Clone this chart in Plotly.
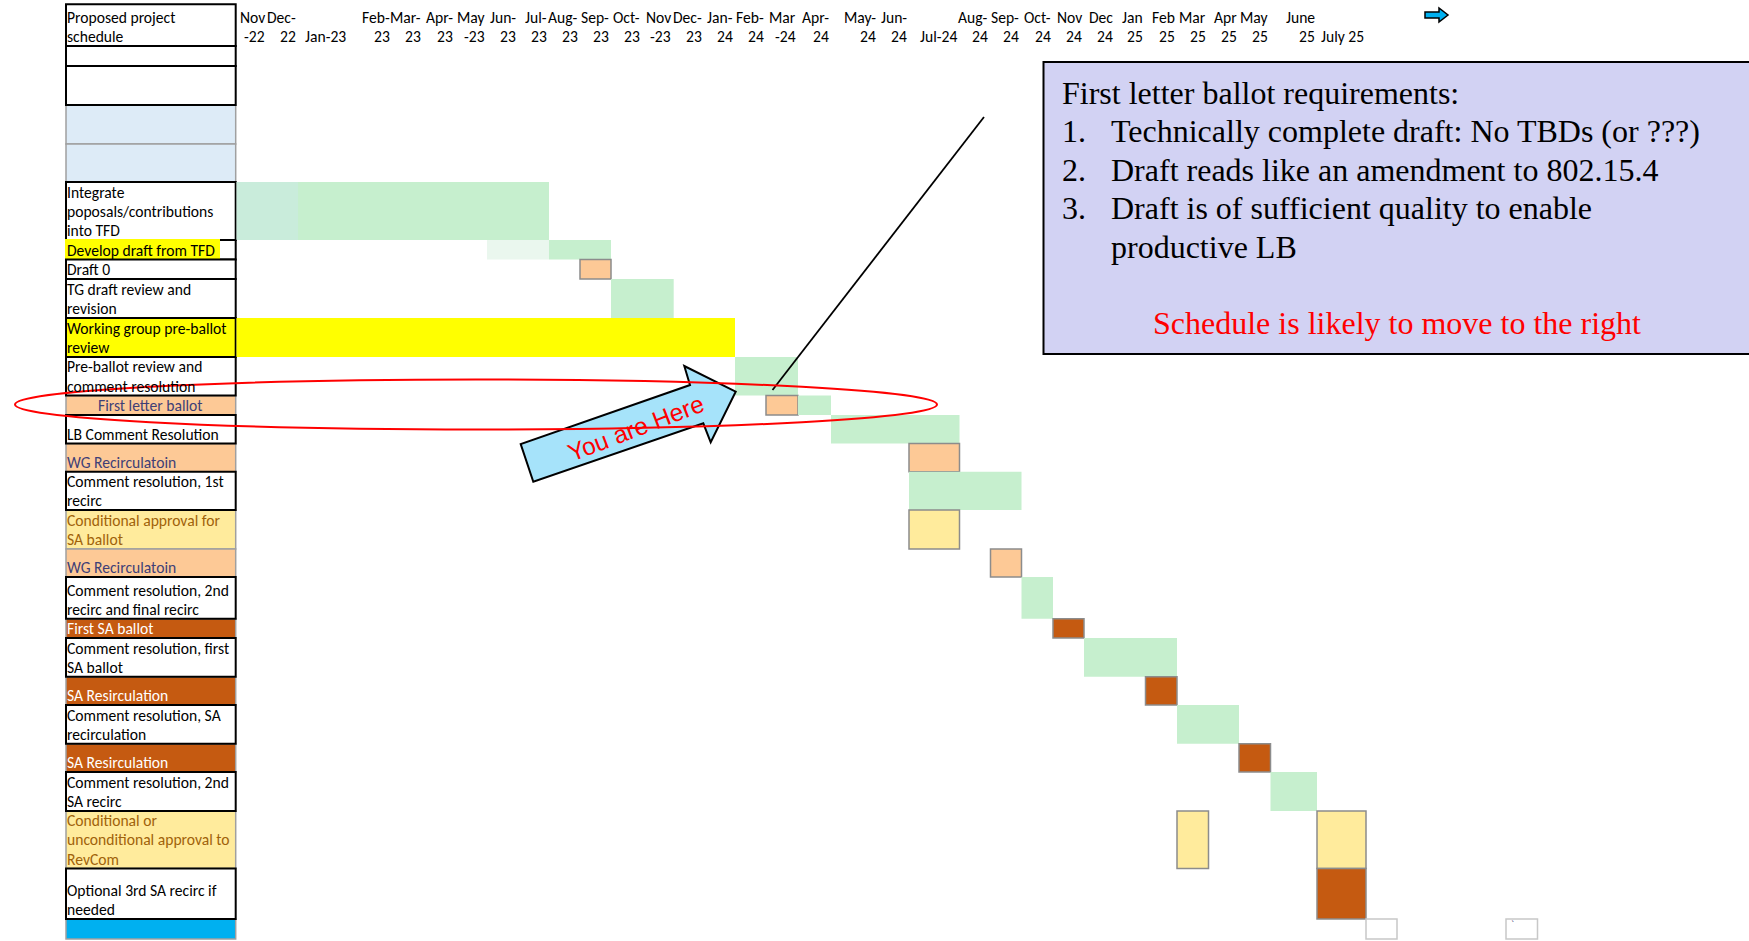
import plotly.graph_objects as go

# ---------------- data ----------------
month_keys = ["2022-11", "2022-12", "2023-01", "2023-02", "2023-03", "2023-04", "2023-05",
              "2023-06", "2023-07", "2023-08", "2023-09", "2023-10", "2023-11", "2023-12",
              "2024-01", "2024-02", "2024-03", "2024-04", "2024-05", "2024-06", "2024-07",
              "2024-08", "2024-09", "2024-10", "2024-11", "2024-12", "2025-01", "2025-02",
              "2025-03", "2025-04", "2025-05", "2025-06", "2025-07", "2025-08", "2025-09",
              "2025-10", "2025-11", "2025-12"]
month_line1 = ["Nov", "Dec-", "", "Feb-", "Mar-", "Apr-", "May", "Jun-", "Jul-", "Aug-", "Sep-",
               "Oct-", "Nov", "Dec-", "Jan-", "Feb-", "Mar", "Apr-", "May-", "Jun-", "", "Aug-",
               "Sep-", "Oct-", "Nov", "Dec", "Jan", "Feb", "Mar", "Apr", "May", "June", "",
               "", "", "", "", ""]
month_line2 = ["-22", "22", "Jan-23", "23", "23", "23", "-23", "23", "23", "23", "23", "23",
               "-23", "23", "24", "24", "-24", "24", "24", "24", "Jul-24", "24", "24", "24",
               "24", "24", "25", "25", "25", "25", "25", "25", "July 25", "", "", "", "", ""]

row_labels = [
    "Proposed project\nschedule", "", "", "", "",
    "Integrate\npoposals/contributions\ninto TFD",
    "Develop draft from TFD",
    "Draft 0",
    "TG draft review and\nrevision",
    "Working group pre-ballot\nreview",
    "Pre-ballot review and\ncomment resolution",
    "First letter ballot",
    "LB Comment Resolution",
    "WG Recirculatoin",
    "Comment resolution, 1st\nrecirc",
    "Conditional approval for\nSA ballot",
    "WG Recirculatoin",
    "Comment resolution, 2nd\nrecirc and final recirc",
    "First SA ballot",
    "Comment resolution, first\nSA ballot",
    "SA Resirculation",
    "Comment resolution, SA\nrecirculation",
    "SA Resirculation",
    "Comment resolution, 2nd\nSA recirc",
    "Conditional or\nunconditional approval to\nRevCom",
    "Optional 3rd SA recirc if\nneeded",
    "",
]
row_style = ["head", "plain", "plain", "lblue", "lblue", "plain", "develop", "plain", "plain",
             "yellow", "plain", "input_c", "plain", "input", "plain", "neutral", "input",
             "plain", "dark", "plain", "dark", "plain", "dark", "plain", "neutral", "plain",
             "blue"]

# schedule cells: row index, first month, last month, cell kind
task_row = [5, 5, 6, 6, 7, 8, 9, 10, 11, 11, 12, 13, 14, 15, 16, 17, 18, 19, 20, 21, 22, 23,
            24, 24, 25, 26, 26]
task_start = ["2022-11", "2023-01", "2023-06", "2023-08", "2023-09", "2023-10", "2022-11",
              "2024-02", "2024-03", "2024-04", "2024-05", "2024-07", "2024-07", "2024-07",
              "2024-09", "2024-10", "2024-11", "2024-12", "2025-02", "2025-03", "2025-05",
              "2025-06", "2025-03", "2025-07", "2025-07", "2025-08", "2025-12"]
task_end = ["2022-12", "2023-07", "2023-07", "2023-09", "2023-09", "2023-11", "2024-01",
            "2024-03", "2024-03", "2024-04", "2024-07", "2024-07", "2024-09", "2024-07",
            "2024-09", "2024-10", "2024-11", "2025-02", "2025-02", "2025-04", "2025-05",
            "2025-06", "2025-03", "2025-07", "2025-07", "2025-08", "2025-12"]
task_kind = ["teal", "green", "pale", "green", "input", "green", "yellow", "green", "input",
             "green", "green", "input", "green", "neutral", "input", "green", "dark", "green",
             "dark", "green", "dark", "green", "neutral", "neutral", "dark", "empty", "empty"]

callout_title = "First letter ballot requirements:"
callout_items = ["Technically complete draft: No TBDs (or ???)",
                 "Draft reads like an amendment to 802.15.4",
                 "Draft is of sufficient quality to enable\nproductive LB"]
callout_note = "Schedule is likely to move to the right"
arrow_text = "You are Here"

# ---------------- layout (sheet geometry in page pixels) ----------------
W, H = 1749, 941
col_edges = [236.5, 267.5, 298, 350, 392, 423.5, 455, 487, 518, 549, 580, 611, 642.5, 673.7,
             704.5, 735, 766, 798, 831, 878, 909, 959.5, 990.5, 1021.5, 1053, 1084, 1115,
             1145.5, 1177, 1208.5, 1239, 1270.5, 1317, 1366, 1397, 1434, 1470, 1506, 1537.5]
row_edges = [4.3, 46, 66, 105, 144, 182, 240, 259.5, 279, 318, 357, 395.5, 415, 443.5, 471.7,
             510, 549, 577, 618.7, 638, 676.7, 705, 743.7, 772, 811, 868.5, 919, 939]
label_x0, label_x1 = 66, 235.7

GREY = "#8c8c8c"
cell_style = {
    "green": ("#c6efce", GREY, 0),
    "teal": ("#c9ecdb", GREY, 0),
    "pale": ("#eaf7ee", GREY, 0),
    "yellow": ("#ffff00", GREY, 0),
    "input": ("#fdc996", GREY, 1.5),
    "neutral": ("#ffeb9c", GREY, 1.5),
    "dark": ("#c55a11", GREY, 1.5),
    "empty": ("#ffffff", "#c8c8c8", 1.5),
}
label_style = {  # fill, border, text colour
    "head": ("#ffffff", "#000000", "#000000"),
    "plain": ("#ffffff", "#000000", "#000000"),
    "develop": ("#ffffff", "#000000", "#000000"),
    "lblue": ("#ddebf7", "#a0a0a0", "#000000"),
    "yellow": ("#ffff00", "#000000", "#000000"),
    "input_c": ("#fdc996", "#a0a0a0", "#3f3f76"),
    "input": ("#fdc996", "#a0a0a0", "#3f3f76"),
    "neutral": ("#ffeb9c", "#a0a0a0", "#a0620a"),
    "dark": ("#c55a11", "#a0a0a0", "#ffffff"),
    "blue": ("#00b0f0", "#a0a0a0", "#000000"),
}
CELL_FONT = "Carlito, Calibri, Lato, sans-serif"
CELL_SIZE = 15.6
SERIF = "Liberation Serif, Times New Roman, serif"
SERIF_SIZE = 32

idx = {k: i for i, k in enumerate(month_keys)}

# ---------------- bars ----------------
bx, bbase, by, bw, bcol, blc, blw = [], [], [], [], [], [], []
for r, s, e, k in zip(task_row, task_start, task_end, task_kind):
    x0 = col_edges[idx[s]]
    x1 = col_edges[idx[e] + 1]
    y0, y1 = row_edges[r], row_edges[r + 1]
    bbase.append(x0)
    bx.append(x1 - x0)
    by.append((y0 + y1) / 2)
    bw.append(y1 - y0)
    f, lc, lw = cell_style[k]
    bcol.append(f)
    blc.append(lc)
    blw.append(lw)

fig = go.Figure()
fig.add_trace(go.Bar(
    orientation="h", x=bx, base=bbase, y=by, width=bw,
    marker=dict(color=bcol, line=dict(color=blc, width=blw)),
    hoverinfo="skip", showlegend=False,
))

shapes = []
annotations = []

# ---------------- label column ----------------
order = [i for i in range(len(row_labels)) if label_style[row_style[i]][1] != "#000000"] + \
        [i for i in range(len(row_labels)) if label_style[row_style[i]][1] == "#000000"]
for i in order:
    fill, border, tc = label_style[row_style[i]]
    y0, y1 = row_edges[i], row_edges[i + 1]
    shapes.append(dict(type="rect", xref="x", yref="y", x0=label_x0, x1=label_x1, y0=y0, y1=y1,
                       fillcolor=fill, line=dict(color=border, width=2 if border == "#000000" else 1.5),
                       layer="below"))
    if row_style[i] == "develop":
        shapes.append(dict(type="rect", xref="x", yref="y", x0=label_x0 - 1, x1=220, y0=y0 - 1,
                           y1=y1 + 1, fillcolor="#ffff00", line=dict(width=0), layer="below"))

for i, lab in enumerate(row_labels):
    if not lab:
        continue
    fill, border, tc = label_style[row_style[i]]
    lines = lab.split("\n")
    yb = row_edges[i + 1]
    for j, ln in enumerate(lines):
        yc = yb - 9.5 - 19.2 * (len(lines) - 1 - j)
        if row_style[i] == "input_c":
            annotations.append(dict(x=(label_x0 + label_x1) / 2, y=yc, xref="x", yref="y", text=ln,
                                    showarrow=False, xanchor="center", yanchor="middle",
                                    font=dict(family=CELL_FONT, size=CELL_SIZE, color=tc)))
        else:
            annotations.append(dict(x=label_x0 - 1.5, y=yc, xref="x", yref="y", text=ln,
                                    showarrow=False, xanchor="left", yanchor="middle",
                                    font=dict(family=CELL_FONT, size=CELL_SIZE, color=tc)))

# ---------------- month header ----------------
hb = row_edges[1]
for c, (l1, l2) in enumerate(zip(month_line1, month_line2)):
    xr = col_edges[c + 1] - 0.5
    if month_keys[c] == "2023-01":
        anchor_x = (col_edges[c] + col_edges[c + 1]) / 2 + 1
        annotations.append(dict(x=anchor_x, y=hb - 9.5, xref="x", yref="y", text=l2, showarrow=False,
                                xanchor="center", yanchor="middle",
                                font=dict(family=CELL_FONT, size=CELL_SIZE, color="#000000")))
        continue
    for t, yy in ((l1, hb - 28.3), (l2, hb - 9.5)):
        if t:
            annotations.append(dict(x=xr, y=yy, xref="x", yref="y", text=t, showarrow=False,
                                    xanchor="right", yanchor="middle",
                                    font=dict(family=CELL_FONT, size=CELL_SIZE, color="#000000")))

# small blue arrow top right
shapes.append(dict(type="path", xref="x", yref="y",
                   path="M1425,12 L1439,12 L1439,8 L1448,15 L1439,22 L1439,18 L1425,18 Z",
                   fillcolor="#00b0f0", line=dict(color="#000000", width=1.5), layer="above"))

# ---------------- callout ----------------
shapes.append(dict(type="rect", xref="x", yref="y", x0=1043.5, x1=1760, y0=62, y1=354,
                   fillcolor="#d2d2f3", line=dict(color="#000000", width=2), layer="above"))
shapes.append(dict(type="line", xref="x", yref="y", x0=984, y0=117, x1=772.5, y1=390,
                   line=dict(color="#000000", width=1.8), layer="above"))

annotations.append(dict(x=1060, y=92.5, xref="x", yref="y", text=callout_title, showarrow=False,
                        xanchor="left", yanchor="middle",
                        font=dict(family=SERIF, size=SERIF_SIZE, color="#000000")))
yline = 131
for n, item in enumerate(callout_items):
    parts = item.split("\n")
    annotations.append(dict(x=1060, y=yline, xref="x", yref="y", text=f"{n + 1}.", showarrow=False,
                            xanchor="left", yanchor="middle",
                            font=dict(family=SERIF, size=SERIF_SIZE, color="#000000")))
    for p in parts:
        annotations.append(dict(x=1109, y=yline, xref="x", yref="y", text=p, showarrow=False,
                                xanchor="left", yanchor="middle",
                                font=dict(family=SERIF, size=SERIF_SIZE, color="#000000")))
        yline += 38.6
annotations.append(dict(x=1396.5, y=323, xref="x", yref="y", text=callout_note, showarrow=False,
                        xanchor="center", yanchor="middle",
                        font=dict(family=SERIF, size=SERIF_SIZE, color="#ff0000")))

# ---------------- "You are Here" arrow & ellipse ----------------
shapes.append(dict(type="path", xref="x", yref="y",
                   path="M533.3,481.7 L520.7,444 L690,385 L684.3,366 L735.7,391.7 L710.7,442.3 L703.3,423.3 Z",
                   fillcolor="#a6e3fa", line=dict(color="#000000", width=2), layer="above"))
annotations.append(dict(x=635, y=428, xref="x", yref="y", text=arrow_text, showarrow=False,
                        textangle=-21, xanchor="center", yanchor="middle",
                        font=dict(family="Liberation Sans, Arial, sans-serif", size=24.5, color="#ff0000")))
shapes.append(dict(type="circle", xref="x", yref="y", x0=15, x1=937, y0=379.5, y1=429.5,
                   line=dict(color="#ff0000", width=2), fillcolor="rgba(0,0,0,0)", layer="above"))

# tiny mark in the last empty cell
annotations.append(dict(x=1509, y=924, xref="x", yref="y", text="`", showarrow=False,
                        xanchor="left", yanchor="middle",
                        font=dict(family=CELL_FONT, size=10, color="#3f3f76")))

fig.update_layout(
    width=W, height=H,
    margin=dict(l=0, r=0, t=0, b=0),
    paper_bgcolor="#ffffff", plot_bgcolor="#ffffff",
    xaxis=dict(range=[0, W], visible=False, fixedrange=True),
    yaxis=dict(range=[H, 0], visible=False, fixedrange=True),
    shapes=shapes, annotations=annotations,
    showlegend=False, barmode="overlay",
)

fig.write_html("out.html", config={"displayModeBar": False},
               post_script="document.body.style.margin='0';document.body.style.overflow='hidden';")
